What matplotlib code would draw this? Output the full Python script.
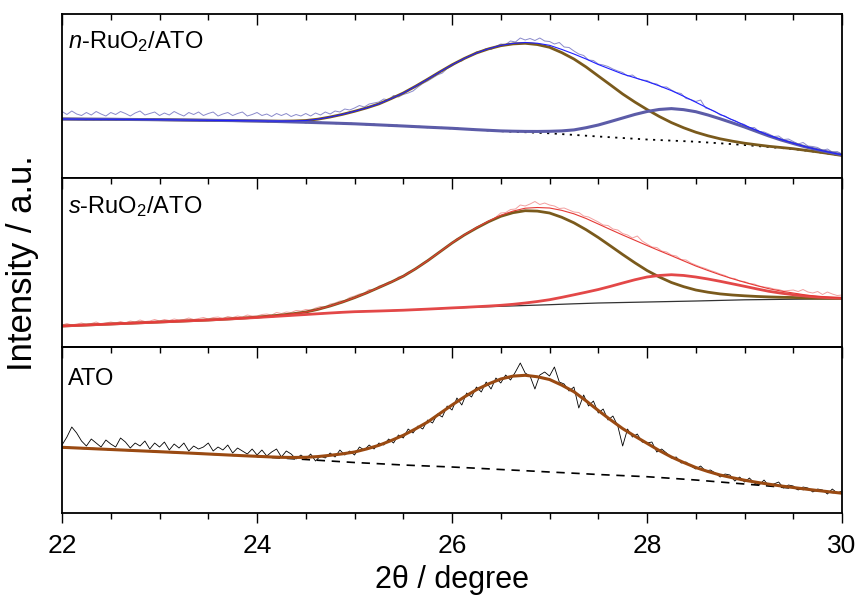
import numpy as np
import matplotlib
matplotlib.use('Agg')
from matplotlib import pyplot as plt
from matplotlib.ticker import MultipleLocator

plt.rcParams['font.family'] = ['Liberation Sans', 'DejaVu Sans']
plt.rcParams['mathtext.fontset'] = 'custom'
plt.rcParams['mathtext.rm'] = 'Liberation Sans'
plt.rcParams['mathtext.it'] = 'Liberation Sans:italic'

# fit curves, every 0.125 degree from 22 to 30 (baseline + peak heights above it)
top_base = [59, 58.9, 58.8, 58.75, 58.7, 58.6, 58.5, 58.4, 58.3, 58.15,
            58, 57.85, 57.7, 57.55, 57.4, 57.2, 57, 56.7, 56.4, 56.05,
            55.7, 55.35, 55, 54.6, 54.2, 53.65, 53.1, 52.55, 52, 51.4,
            50.8, 50.25, 49.7, 49, 48.3, 47.55, 46.8, 46.3, 45.8, 45.25,
            44.7, 43.9, 43.1, 42.3, 41.5, 40.75, 40, 39.25, 38.5, 37.95,
            37.4, 36.85, 36.3, 35.5, 34.7, 33.85, 33, 32, 31, 30,
            29, 27.5, 26, 24.3, 22.5]
top_peak1 = [0] * 15 + [0.03, 0.1, 0.25, 0.5, 1.0, 1.8, 3.5, 6, 9, 12.5,
                        16.5, 21, 26.8, 33, 40.3, 48, 55.9, 63.5, 70.5, 76.7,
                        81.6, 85.5, 87.8, 88.9, 88.2, 86, 81.5, 75.9, 68.7, 60.5,
                        52.3, 44, 36.7, 30, 23.6, 18, 13.4, 9.5, 6.7, 4.5,
                        3, 1.8, 1.2, 0.7, 0.5, 0.3, 0.2, 0.1, 0.05, 0]
top_peak2 = [0] * 35 + [0.15, 0.3, 0.5, 0.8, 1.3, 2, 3.2, 5, 8, 11.5,
                        15.7, 20, 24.3, 28, 30.6, 32, 31.5, 30, 27.5, 24.5,
                        21.3, 18, 14.5, 11, 8, 5.5, 3.6, 2.2, 1.3, 0.7]

mid_base = [21, 21.5, 22, 22.5, 23, 23.5, 24, 24.5, 25, 25.5,
            26, 26.5, 27, 27.6, 28.2, 28.85, 29.5, 30.25, 31, 31.75,
            32.5, 33.25, 34, 34.7, 35.3, 35.65, 36, 36.4, 36.8, 37.35,
            37.9, 38.45, 39, 39.45, 39.9, 40.3, 40.7, 41.1, 41.5, 41.9,
            42.3, 42.75, 43.2, 43.6, 44, 44.25, 44.5, 44.75, 45, 45.25,
            45.5, 45.75, 46, 46.3, 46.6, 46.9, 47.2, 47.35, 47.5, 47.65,
            47.8, 47.9, 48, 48.15, 48.3]
mid_peak1 = [0] * 13 + [0.03, 0.1, 0.2, 0.4, 0.65, 1, 1.6, 2.5, 4.4, 7,
                        10.2, 14, 18.5, 23.5, 28.5, 34, 40.8, 48.4, 56.7, 65,
                        72.5, 79, 85, 90, 93.2, 94.8, 94, 91.7, 87, 81,
                        73.7, 65.5, 56.8, 48, 39.5, 31.5, 24.8, 19, 14.6, 11,
                        8.5, 6.5, 5.1, 4, 3.2, 2.6, 2.1, 1.7, 1.2, 0.8,
                        0.5, 0.3]
mid_peak2 = [0] * 31 + [0.03, 0.1, 0.2, 0.4, 0.65, 1, 1.6, 2.5, 3.6, 5,
                        6.9, 9, 11.2, 13.5, 16.4, 19.5, 22.5, 25, 26.3, 26.8,
                        25.8, 24, 21.7, 19.1, 16.3, 13.5, 10.8, 8.2, 6.2, 4.5,
                        3, 1.9, 1.1, 0.5]

bot_base = [65.7, 65.15, 64.6, 64.05, 63.5, 62.95, 62.4, 61.85, 61.3, 60.75,
            60.2, 59.6, 59, 58.4, 57.8, 57.15, 56.5, 55.75, 55, 54.25,
            53.5, 52.75, 52, 51.25, 50.5, 49.9, 49.3, 48.65, 48, 47.5,
            47, 46.5, 46, 45.4, 44.8, 44.15, 43.5, 42.9, 42.3, 41.65,
            41, 40.4, 39.8, 39.15, 38.5, 37.95, 37.4, 36.85, 36.3, 35.5,
            34.7, 33.85, 33, 32, 31, 30, 29, 28, 27, 25.85,
            24.7, 23.45, 22.2, 20.95, 19.7]
bot_peak = [0] * 15 + [0.08, 0.2, 0.4, 0.7, 1.3, 2.2, 3.7, 5.7, 7.9, 10.5,
                       14.2, 18.4, 23.8, 29.7, 36.6, 44, 53, 62, 70.6, 78.5,
                       85, 90.5, 94, 95.4, 94.6, 92.5, 87.5, 81.5, 73, 64,
                       55.3, 47, 40, 33.4, 27, 21.3, 16.7, 12.5, 9.5, 7,
                       5.3, 3.8, 2.7, 1.8, 1.2, 0.8, 0.5, 0.3, 0.2, 0.1]

# measured patterns, every 0.05 degree from 22 to 30
top_data = [66.5, 63.5, 67, 64, 62.5, 65.5, 63, 66.5, 64, 62,
            65.5, 63.5, 66.5, 64.5, 62, 65, 67, 63, 64.5, 66,
            62.5, 65, 63, 66.5, 64, 62, 65.5, 63.5, 66, 62.5,
            64.5, 66, 62, 64, 65.5, 62.5, 64.5, 66, 62, 63.5,
            65.5, 62.5, 64, 61.5, 64.5, 62.5, 64.5, 61.5, 63.5, 62,
            64.5, 62, 65, 63, 66, 64, 67, 66, 69, 68,
            70, 72.5, 71, 74, 75, 76, 79, 78, 82.5, 81,
            83.5, 85, 87, 91, 94.5, 97, 100, 103, 105, 109.5,
            112, 116, 117, 121, 122.5, 126, 127, 129.5, 128.5, 131.5,
            134, 133.5, 137, 136, 140, 138, 139.5, 137.5, 140, 137,
            136.5, 134, 135.5, 131, 130.5, 127, 124, 122.5, 118, 117.5,
            114, 113, 111.5, 109, 107, 105.5, 102, 103, 99.5, 98,
            97.5, 95, 94, 91, 91, 88, 85.5, 84.5, 79.5, 78.5,
            76.5, 78, 70, 68.5, 66.5, 63, 62, 59, 57.5, 55,
            53.5, 50, 50.5, 46.5, 46, 44, 41.5, 42, 38.5, 39,
            36.5, 34, 35.5, 32, 31.5, 30.5, 27.5, 29, 26, 26.5,
            24]
mid_data = [22, 23.5, 22, 23, 24, 22.5, 23.5, 25, 23, 24,
            25, 24, 25.5, 24, 26, 25, 27, 25.5, 26, 27.5,
            26, 27.5, 26.5, 28, 27, 27.5, 29, 27.5, 28.5, 29.5,
            28, 29.5, 30, 28.5, 30.5, 29.5, 31, 30, 32, 31,
            31, 32.5, 33, 32, 34.5, 33.5, 35, 34.5, 36.5, 36,
            37.5, 37, 39, 40.5, 40, 43, 44, 46, 46.5, 49.5,
            51, 53, 54, 57.5, 57, 61, 62.5, 65, 66, 70,
            71.5, 75, 77, 79.5, 84, 87, 90, 93.5, 97, 100,
            104, 108.5, 110, 114, 116.5, 120, 122, 124.5, 126, 130,
            134, 134.5, 137.5, 138, 142, 141, 143, 145.5, 142.5, 144,
            142, 141, 138.5, 139, 137, 135, 134.5, 131, 130, 127.5,
            125, 122, 121.5, 118, 117, 113.5, 112, 109, 111, 106,
            103, 100, 99.5, 96, 95, 92, 91, 87.5, 87, 84,
            82, 80, 78.5, 76.5, 75, 73, 71.5, 69, 68.5, 66,
            65.5, 63.5, 63, 61, 60, 59.5, 58, 57.5, 56, 56.5,
            57, 55.5, 57.5, 55, 54, 55.5, 52.5, 55, 53, 51.5,
            52]
bot_data = [68, 76, 86, 80, 72, 67, 74, 70, 66, 73,
            69, 66, 75, 71, 65, 70, 67, 72, 64, 70,
            66, 71, 63, 69, 65, 70, 62, 67, 64, 66,
            70, 62, 66, 63, 68, 60, 65, 62, 59, 64,
            58, 63, 57, 61, 64, 56, 62, 59, 54, 58,
            54, 59, 52, 57, 55, 60, 56, 63, 58, 62,
            58, 66, 63, 68, 64, 70, 68, 74, 70, 78,
            75, 84, 80, 87, 84, 93, 90, 99, 96, 107,
            103, 115, 108, 120, 116, 126, 121, 131, 124, 135,
            130, 138, 133, 141, 150, 140, 137, 124, 138, 141,
            137, 146, 131, 129, 122, 126, 105, 118, 107, 112,
            100, 104, 93, 97, 87, 67, 84, 76, 79, 71,
            70, 71, 61, 64, 60, 55, 56, 50, 51, 47,
            44, 47, 42, 43, 40, 36, 39, 38, 32, 36,
            31, 35, 30, 28, 33, 27, 29, 31, 25, 28,
            27, 23, 26, 25, 21, 24, 23, 19, 24, 20,
            22]

x_fit = np.linspace(22, 30, len(top_base))
x_dat = np.linspace(22, 30, len(top_data))

fig = plt.figure(figsize=(8.58, 6.01), dpi=100)
gs = fig.add_gridspec(3, 1, height_ratios=[164, 169, 166], hspace=0,
                      left=0.0723, right=0.9814, top=0.9767, bottom=0.1464)
ax1 = fig.add_subplot(gs[0])
ax2 = fig.add_subplot(gs[1], sharex=ax1)
ax3 = fig.add_subplot(gs[2], sharex=ax1)

brown = '#7a5a1c'

# n-RuO2/ATO
b = np.array(top_base)
p1 = np.array(top_peak1)
p2 = np.array(top_peak2)
ax1.plot(x_dat, top_data, color='#8a8acb', lw=0.7)
ax1.plot(x_fit, b, color='black', lw=1.3, ls=(0, (1.2, 3)))
ax1.plot(x_fit, b + p1, color=brown, lw=2)
ax1.plot(x_fit, b + p2, color='#5c5ca8', lw=2.2)
ax1.plot(x_fit, b + p1 + p2, color='#1f1fff', lw=0.8)
ax1.set_ylim(0, 164)

# s-RuO2/ATO
b = np.array(mid_base)
p1 = np.array(mid_peak1)
p2 = np.array(mid_peak2)
ax2.plot(x_dat, mid_data, color='#f2a0a0', lw=0.7)
ax2.plot(x_fit, b, color='#333333', lw=0.9)
ax2.plot(x_fit, b + p1, color=brown, lw=2)
ax2.plot(x_fit, b + p2, color='#e34848', lw=2)
ax2.plot(x_fit, b + p1 + p2, color='#e53935', lw=0.8)
ax2.set_ylim(0, 169)

# ATO
b = np.array(bot_base)
p1 = np.array(bot_peak)
ax3.plot(x_dat, bot_data, color='black', lw=0.6)
ax3.plot(x_fit, b, color='black', lw=1.2, ls=(0, (5, 4)))
ax3.plot(x_fit, b + p1, color='#9a4a12', lw=2.2)
ax3.set_ylim(0, 166)

labels = [r'$\mathit{n}$-RuO$_2$/ATO', r'$\mathit{s}$-RuO$_2$/ATO', 'ATO']
for ax, lab, ty in zip([ax1, ax2, ax3], labels, [0.83, 0.83, 0.81]):
    ax.text(0.008, ty, lab, transform=ax.transAxes, fontsize=17, va='center', ha='left')
    ax.set_yticks([])
    ax.set_xlim(22, 30)
    ax.xaxis.set_major_locator(MultipleLocator(2))
    ax.xaxis.set_minor_locator(MultipleLocator(0.5))
    for s in ax.spines.values():
        s.set_linewidth(1.3)

for ax in [ax1, ax2]:
    ax.tick_params(axis='x', which='both', bottom=False, top=True, direction='in',
                   labelbottom=False, width=1)
    ax.tick_params(axis='x', which='major', length=8)
    ax.tick_params(axis='x', which='minor', length=4)

ax3.tick_params(axis='x', which='both', bottom=True, top=False, direction='out',
                labelsize=19, width=1, pad=8)
ax3.tick_params(axis='x', which='major', length=7)
ax3.tick_params(axis='x', which='minor', length=4)
sec = ax3.secondary_xaxis('top')
sec.xaxis.set_major_locator(MultipleLocator(2))
sec.xaxis.set_minor_locator(MultipleLocator(0.5))
sec.tick_params(axis='x', which='both', direction='in', labeltop=False, width=1)
sec.tick_params(axis='x', which='major', length=8)
sec.tick_params(axis='x', which='minor', length=4)
sec.spines['top'].set_linewidth(1.3)

ax3.set_xlabel('2θ / degree', fontsize=22, labelpad=5)
fig.text(0.026, 0.5616, 'Intensity / a.u.', rotation=90, va='center', ha='center', fontsize=25)

plt.savefig('out.png', dpi=100)
